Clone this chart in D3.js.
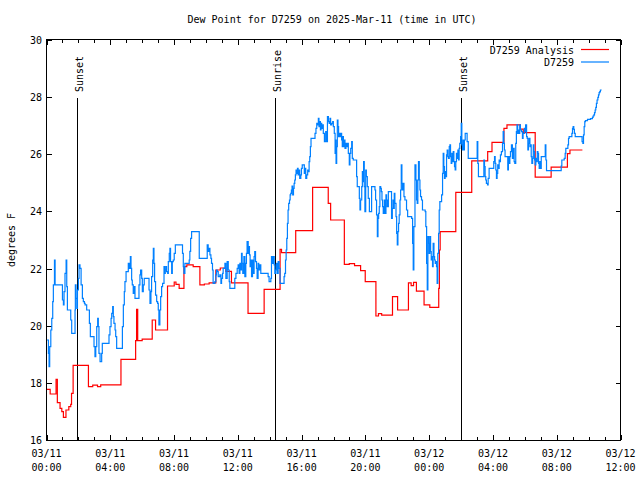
<!DOCTYPE html>
<html><head><meta charset="utf-8">
<script src="https://cdn.jsdelivr.net/npm/d3@7"></script>
<style>
html,body{margin:0;padding:0;background:#fff;}
svg text{font-family:"DejaVu Sans Mono",monospace;font-size:10px;fill:#000;}
</style></head>
<body><svg id="c" width="640" height="480"></svg>
<script>
const title = "Dew Point for D7259 on 2025-Mar-11 (time in UTC)";
const yLabel = "degrees F";
const seriesNames = ["D7259 Analysis", "D7259"];
const seriesColors = ["#ff0000", "#0080ff"];
const startUTC = Date.UTC(2025, 2, 11, 0, 0);
const xTickHours = [0, 4, 8, 12, 16, 20, 24, 28, 32, 36];
const yTicks = [16, 18, 20, 22, 24, 26, 28, 30];
const sunEvents = [["Sunset", 1.93], ["Sunrise", 14.35], ["Sunset", 26.01]];

// [hours since 03/11 00:00 UTC, dew point F]
const analysis = [[0,17.77],[0.23,17.61],[0.6,18.12],[0.68,17.31],[0.85,17.11],[0.96,16.99],[1.06,16.79],[1.22,17.05],[1.4,17.17],[1.52,17.25],[1.57,17.63],[1.67,18.61],[2.63,17.87],[2.9,17.92],[3.2,17.87],[3.4,17.93],[4.67,18.82],[5.59,19.48],[5.65,20.57],[5.72,19.48],[6.0,19.53],[6.63,20.2],[6.84,19.85],[7.59,21.39],[8.01,21.53],[8.12,21.45],[8.32,21.31],[8.62,22.07],[8.8,22.13],[9.2,22.07],[9.62,21.43],[9.9,21.46],[10.2,21.5],[10.62,21.95],[10.9,22.02],[11.25,21.9],[11.6,21.5],[12.64,20.43],[13.65,21.27],[14.65,22.67],[14.74,22.56],[15.63,23.33],[16.69,24.84],[17.67,24.28],[17.82,23.7],[18.68,22.15],[18.99,22.17],[19.32,22.1],[19.7,21.93],[19.99,21.54],[20.66,20.34],[20.82,20.42],[21.02,20.37],[21.7,21.02],[22.02,20.55],[22.7,21.5],[22.87,21.4],[23.02,21.52],[23.2,21.21],[23.68,20.73],[24.04,20.64],[24.6,21.31],[24.64,22.65],[24.69,23.29],[25.67,24.67],[26.67,25.77],[27.67,26.09],[27.94,26.42],[28.69,26.91],[28.88,27.03],[29.72,26.88],[29.9,26.76],[30.65,25.2],[31.65,25.55],[32.67,26.02],[32.83,26.15],[33.61,26.15]];

const observed = [[0.02,19.5],[0.12,19.03],[0.16,18.57],[0.2,19.27],[0.27,19.85],[0.33,20.26],[0.39,20.84],[0.43,21.43],[0.5,22.3],[0.54,21.43],[1.0,20.9],[1.06,20.73],[1.1,21.19],[1.16,21.83],[1.23,22.3],[1.27,21.37],[1.31,20.55],[1.52,20.2],[1.58,19.73],[1.79,20.55],[1.81,21.43],[1.85,20.96],[1.9,20.61],[1.94,21.25],[2.0,21.66],[2.04,22.13],[2.1,22.01],[2.17,21.43],[2.25,20.96],[2.31,20.84],[2.38,20.78],[2.42,20.73],[2.52,20.55],[2.69,20.08],[2.75,19.62],[2.98,19.27],[3.04,18.92],[3.09,19.27],[3.15,19.97],[3.21,20.26],[3.25,19.97],[3.29,19.03],[3.36,18.74],[3.46,19.03],[3.5,19.38],[3.92,19.68],[3.98,19.97],[4.05,20.26],[4.09,20.43],[4.15,20.67],[4.19,20.32],[4.23,20.08],[4.3,19.85],[4.34,19.62],[4.4,19.21],[4.76,19.97],[4.82,20.73],[4.88,21.19],[4.92,21.54],[4.99,21.89],[5.13,22.18],[5.19,22.01],[5.26,22.42],[5.3,22.01],[5.34,21.6],[5.38,21.43],[5.44,21.13],[5.51,21.37],[5.55,20.96],[5.8,21.43],[5.86,21.78],[5.9,21.95],[5.97,21.66],[6.01,21.19],[6.07,21.43],[6.13,21.66],
[6.43,21.25],[6.49,20.78],[6.55,21.19],[6.59,21.72],[6.66,22.3],[6.7,22.71],[6.74,22.18],[6.78,21.54],[6.84,21.07],[6.91,20.84],[6.97,20.78],[7.01,20.55],[7.05,20.03],[7.11,20.55],[7.16,21.02],[7.22,21.37],[7.28,21.48],[7.37,22.07],[7.41,21.83],[7.45,21.95],[7.49,22.07],[7.53,21.89],[7.6,21.83],[7.64,22.24],[7.7,22.53],[7.74,22.71],[7.78,22.24],[7.85,21.83],[7.89,22.24],[7.95,22.3],[8.01,22.53],[8.08,22.83],[8.53,22.53],[8.58,22.07],[8.62,21.83],[8.68,22.18],[8.95,22.3],[8.99,22.6],[9.04,23.06],[9.1,23.29],[9.58,22.36],[10.08,22.83],[10.14,22.6],[10.2,22.71],[10.25,22.48],[10.31,22.36],[10.35,22.18],[10.41,21.95],[10.45,21.48],[10.56,21.54],[10.62,21.78],[10.66,21.95],[10.71,21.89],[10.77,21.72],[10.87,21.78],[10.94,21.48],[10.98,21.66],[11.04,21.83],[11.08,22.01],[11.19,22.18],[11.25,21.66],[11.33,22.24],[11.4,21.95],[11.46,21.54],[11.5,21.31],[11.81,21.66],[11.88,21.83],[11.96,22.01],[12.02,22.13],
[12.08,21.83],[12.13,22.18],[12.17,21.95],[12.23,22.53],[12.27,22.18],[12.31,21.83],[12.38,22.42],[12.44,21.72],[12.5,22.18],[12.54,22.53],[12.58,22.94],[12.65,22.53],[12.69,22.77],[12.73,22.48],[12.77,22.07],[12.81,22.3],[12.86,21.72],[12.92,22.3],[12.96,21.83],[13.02,22.42],[13.06,22.59],[13.11,22.24],[13.17,22.01],[13.21,21.66],[13.27,22.18],[13.31,21.95],[13.38,22.13],[13.44,21.83],[13.9,21.72],[13.96,21.54],[14.07,21.66],[14.11,22.42],[14.15,22.18],[14.21,22.42],[14.28,22.13],[14.32,21.83],[14.36,21.95],[14.42,22.18],[14.46,21.83],[14.53,22.24],[14.59,22.01],[14.65,21.48],[14.9,21.72],[14.94,21.83],[14.99,22.3],[15.03,22.65],[15.07,23.06],[15.11,23.58],[15.15,24.05],[15.19,24.28],[15.24,24.4],[15.28,24.58],[15.32,24.63],[15.36,24.75],[15.4,24.89],[15.44,24.58],[15.49,24.81],[15.53,24.98],[15.57,25.1],[15.61,25.28],[15.65,25.45],[15.69,25.33],[15.74,25.51],[15.78,25.28],[15.82,25.45],[15.88,25.16],[15.95,25.28],[15.99,25.51],[16.04,25.63],[16.11,25.63],[16.17,25.33],[16.22,25.51],[16.26,25.16],[16.32,25.28],[16.38,25.45],[16.42,25.39],[16.47,25.74],[16.51,25.92],[16.55,26.27],[16.59,26.56],[16.84,26.73],[16.9,26.91],[16.95,27.08],[17.01,27.03],[17.05,27.26],[17.09,26.97],[17.13,27.14],[17.18,26.85],[17.22,27.08],[17.26,26.91],[17.3,27.03],[17.36,26.73],[17.43,26.44],[17.51,26.79],[17.55,26.44],[17.62,27.32],[17.68,27.14],[17.73,27.08],[17.78,27.26],[17.82,27.03],[17.89,27.08],[17.95,27.14],[17.99,26.97],
[18.05,26.73],[18.1,26.03],[18.14,26.5],[18.16,25.68],[18.2,26.27],[18.24,27.2],[18.28,26.97],[18.32,26.62],[18.37,26.73],[18.41,26.62],[18.45,26.73],[18.51,26.5],[18.55,26.27],[18.57,26.62],[18.62,26.27],[18.66,26.5],[18.72,26.21],[18.78,26.38],[18.83,26.27],[18.89,26.38],[18.93,26.03],[18.99,25.63],[19.03,26.03],[19.08,26.21],[19.14,26.44],[19.18,25.86],[19.24,25.8],[19.45,25.22],[19.49,24.87],[19.62,24.46],[19.66,24.05],[19.7,24.4],[19.77,24.87],[19.81,25.39],[19.85,25.04],[19.89,25.74],[19.93,24.87],[19.97,23.99],[20.02,25.45],[20.06,25.22],[20.12,24.87],[20.18,24.46],[20.25,23.99],[20.39,24.87],[20.6,24.75],[20.64,24.4],[20.7,23.88],[20.75,23.12],[20.79,23.76],[20.83,23.93],[20.87,24.17],[20.91,24.87],[20.96,24.81],[21.0,24.69],[21.04,24.4],[21.08,24.17],[21.12,23.93],[21.19,24.4],[21.23,23.93],[21.29,24.58],[21.33,24.4],[21.37,24.17],[21.44,24.69],[21.64,23.76],[21.69,24.11],[21.73,24.4],[21.77,24.11],[21.81,24.63],[21.85,24.28],[21.92,23.82],[21.96,23.23],[22.0,22.83],[22.04,23.29],[22.08,23.58],[22.12,23.88],[22.17,24.4],[22.21,24.75],[22.25,25.63],[22.29,24.98],[22.33,24.75],[22.37,24.98],[22.42,24.52],[22.48,24.4],[22.58,24.05],[22.65,23.82],[22.9,23.76],[22.96,22.88],[23.0,21.95],[23.04,23.47],[23.11,25.63],[23.17,25.1],[23.21,24.4],[23.25,24.28],[23.29,25.1],[23.33,25.74],[23.38,25.1],[23.42,24.75],[23.46,24.52],[23.52,24.4],[23.58,24.05],[23.75,23.99],[23.79,23.47],[23.84,22.18],[23.88,21.25],[23.92,23.12],[23.96,22.88],[24.0,22.53],[24.04,23.12],[24.09,22.59],[24.13,22.3],[24.17,22.42],[24.21,22.07],[24.25,22.88],[24.3,22.42],[24.34,22.3],[24.38,22.18],[24.42,22.24],[24.46,22.07],[24.5,21.48],[24.54,22.53],[24.59,23.23],[24.63,24.05],
[24.67,24.34],[24.78,24.58],[24.84,25.33],[24.88,26.03],[24.92,25.57],[24.96,25.16],[25.0,25.39],[25.05,25.22],[25.09,25.98],[25.13,26.15],[25.17,25.92],[25.21,25.86],[25.26,26.27],[25.3,26.33],[25.34,25.92],[25.38,25.68],[25.42,26.03],[25.47,25.74],[25.51,26.09],[25.55,25.74],[25.59,25.57],[25.63,25.45],[25.67,25.74],[25.71,26.03],[25.76,25.86],[25.8,26.15],[25.84,25.8],[25.88,26.21],[25.92,26.38],[25.97,26.62],[26.01,27.08],[26.05,26.33],[26.09,26.15],[26.13,26.5],[26.17,26.15],[26.21,26.5],[26.26,26.73],[26.38,26.44],[26.45,25.86],[27.01,26.44],[27.05,25.68],[27.09,25.22],[27.43,25.8],[27.47,25.57],[27.51,25.22],[27.55,25.1],[27.59,24.98],[27.66,24.93],[27.7,25.16],[27.76,25.51],[28.05,25.74],[28.1,25.92],[28.14,25.68],[28.18,25.45],[28.22,25.16],[28.26,25.33],[28.3,25.63],[28.35,25.51],[28.39,25.8],[28.43,25.74],[28.47,25.98],[28.53,26.09],[28.6,26.38],[28.64,26.79],[28.68,26.38],[28.72,26.15],[28.76,25.92],[28.93,25.45],[28.97,25.92],[29.01,25.68],[29.06,25.92],[29.1,26.09],[29.16,26.33],[29.22,25.86],[29.26,26.21],[29.33,25.74],[29.37,25.68],[29.43,26.38],[29.47,26.79],[29.51,27.03],[29.55,26.73],[29.6,26.85],[29.64,26.73],[29.68,27.03],[29.72,26.85],[29.79,26.79],[29.85,26.56],[29.89,26.73],[29.97,26.91],[30.01,26.79],[30.05,27.03],[30.11,26.62],[30.15,26.56],[30.19,26.15],[30.23,26.38],[30.27,26.56],
[30.32,26.27],[30.36,26.33],[30.4,25.92],[30.44,25.68],[30.49,25.86],[30.53,26.33],[30.57,26.09],[30.61,25.8],[30.65,25.63],[30.69,25.86],[30.74,25.74],[30.78,26.09],[30.82,26.03],[30.86,25.68],[30.9,25.51],[30.94,25.74],[30.99,25.51],[31.03,25.92],[31.28,26.33],[31.32,25.8],[31.36,25.43],[32.28,25.59],[32.32,25.8],[32.47,25.86],[32.53,26.03],[32.57,26.21],[32.7,26.33],[32.74,26.56],[32.78,26.62],[32.95,26.73],[32.99,26.91],[33.03,26.97],[33.07,26.87],[33.11,26.73],[33.16,26.62],[33.59,26.44],[33.64,26.38],[33.68,26.68],[33.72,26.97],[33.76,27.14],[33.8,27.18],[33.93,27.22],[34.12,27.25],[34.24,27.29],[34.28,27.34],[34.33,27.38],[34.37,27.46],[34.41,27.55],[34.45,27.64],[34.49,27.78],[34.53,27.9],[34.58,27.99],[34.62,28.08],[34.66,28.16],[34.7,28.19],[34.74,28.25],[34.78,28.27]];

const H = 3600 * 1000;
const toDate = h => new Date(startUTC + h * H);
const svg = d3.select("#c");
const L = 46.5, R = 620.5, T = 40, B = 440;
const x = d3.scaleUtc().domain([toDate(0), toDate(36)]).range([L, R]);
const y = d3.scaleLinear().domain([16, 30]).range([B, T]);

svg.append("text").attr("x", 332).attr("y", 23).attr("text-anchor", "middle").text(title);

const g = svg.append("g").attr("shape-rendering", "crispEdges").attr("stroke", "#000").attr("stroke-width", 1);
// minor & major x ticks
const minor = d3.range(0, 37, 1);
minor.forEach(h => {
  const xx = Math.round(x(toDate(h))) + 0.5;
  const len = xTickHours.includes(h) ? 5 : 3;
  g.append("line").attr("x1", xx).attr("x2", xx).attr("y1", B).attr("y2", B - len);
  g.append("line").attr("x1", xx).attr("x2", xx).attr("y1", T).attr("y2", T + len);
});
yTicks.forEach(v => {
  const yy = Math.round(y(v)) + 0.5;
  g.append("line").attr("x1", L).attr("x2", L + 5).attr("y1", yy).attr("y2", yy);
  g.append("line").attr("x1", R - 5).attr("x2", R).attr("y1", yy).attr("y2", yy);
});

// axis labels
const fmtD = d3.utcFormat("%m/%d"), fmtT = d3.utcFormat("%H:%M");
xTickHours.forEach(h => {
  const d = toDate(h);
  const t = svg.append("text").attr("x", x(d)).attr("text-anchor", "middle");
  t.append("tspan").attr("x", x(d)).attr("y", 457).text(fmtD(d));
  t.append("tspan").attr("x", x(d)).attr("y", 471).text(fmtT(d));
});
yTicks.forEach(v => {
  svg.append("text").attr("x", 42).attr("y", y(v) + 4).attr("text-anchor", "end").text(v);
});
svg.append("text").attr("transform", "translate(15,240) rotate(-90)").attr("text-anchor", "middle").text(yLabel);

// sun events
sunEvents.forEach(([name, h]) => {
  const xx = Math.round(x(toDate(h))) + 0.5;
  svg.append("line").attr("x1", xx).attr("x2", xx).attr("y1", 98).attr("y2", B)
    .attr("stroke", "#000").attr("shape-rendering", "crispEdges");
  svg.append("text").attr("transform", `translate(${xx + 5.5},92) rotate(-90)`).attr("text-anchor", "start").text(name);
});

// series
const line = d3.line().curve(d3.curveStepAfter).x(d => x(toDate(d[0]))).y(d => y(d[1]));
[analysis, observed].forEach((s, i) => {
  svg.append("path").datum(s).attr("d", line).attr("fill", "none")
    .attr("stroke", seriesColors[i]).attr("stroke-width", 1.2);
});

// frame
svg.append("rect").attr("x", L).attr("y", T - 0.5).attr("width", R - L).attr("height", B - T + 0.5)
  .attr("fill", "none").attr("stroke", "#000").attr("shape-rendering", "crispEdges");

// legend
seriesNames.forEach((n, i) => {
  const yy = 49.5 + i * 12.5;
  svg.append("text").attr("x", 574).attr("y", yy + 4).attr("text-anchor", "end").text(n);
  svg.append("line").attr("x1", 581).attr("x2", 609).attr("y1", yy).attr("y2", yy)
    .attr("stroke", seriesColors[i]).attr("stroke-width", 1.2);
});
</script></body></html>
